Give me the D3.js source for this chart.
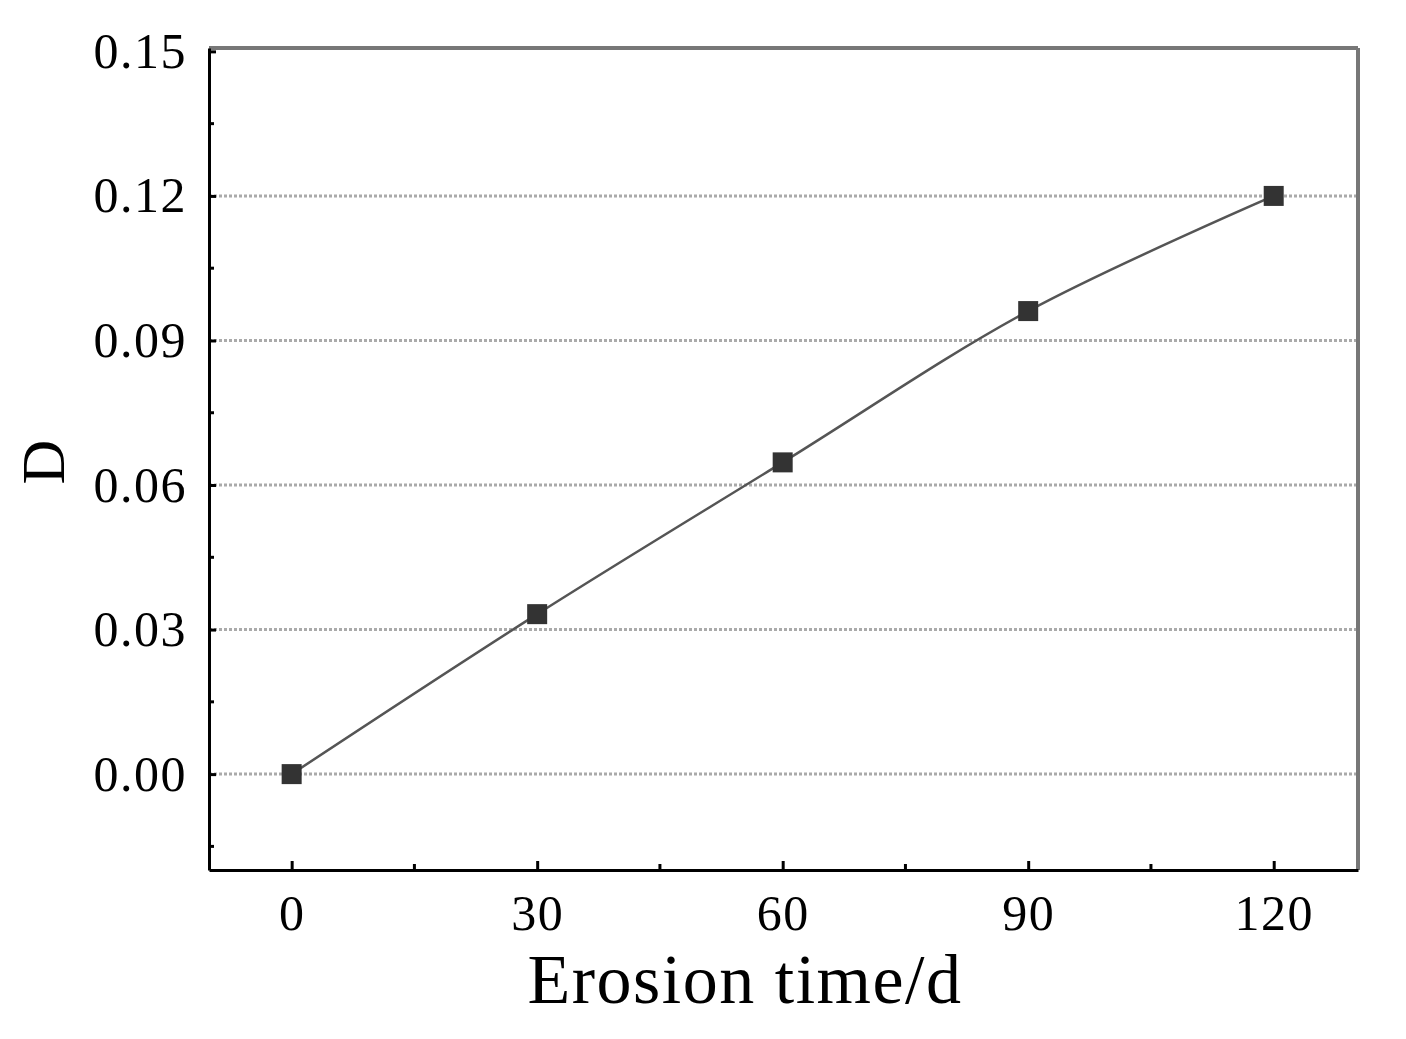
<!DOCTYPE html>
<html><head><meta charset="utf-8">
<script src="https://cdn.jsdelivr.net/npm/d3@7"></script>
<style>body{margin:0;background:#fff}</style></head>
<body><svg id="c" width="1406" height="1039"></svg>
<script>
const times=[0,30,60,90,120];
const dValues=[0,0.0332,0.0647,0.0961,0.12];
const yTicks=[0,0.03,0.06,0.09,0.12,0.15];
const xTicks=[0,30,60,90,120];
const gridTicks=[0,0.03,0.06,0.09,0.12];

const svg=d3.select("#c");
const L=209,R=1358,T=48,B=870;
const x=d3.scaleLinear().domain([-10.1,130.3]).range([L,R]);
const y=d3.scaleLinear().domain([-0.0199,0.1507]).range([B,T]);
const font="Liberation Serif, DejaVu Serif, serif";

svg.append("g").selectAll("line").data(gridTicks).join("line")
 .attr("x1",L).attr("x2",R).attr("y1",d=>y(d)).attr("y2",d=>y(d))
 .attr("stroke","#aaa").attr("stroke-width",3).attr("stroke-dasharray","3,2");

svg.append("line").attr("x1",L).attr("x2",R).attr("y1",T).attr("y2",T).attr("stroke","#777").attr("stroke-width",4);
svg.append("line").attr("x1",R).attr("x2",R).attr("y1",T).attr("y2",B).attr("stroke","#777").attr("stroke-width",4);

const ya=d3.axisLeft(y).tickValues(yTicks).tickFormat(d3.format(".2f")).tickSizeInner(-7).tickSizeOuter(0).tickPadding(22);
const gy=svg.append("g").attr("transform",`translate(${L},0)`).call(ya);
const yMinor=[-0.015,0.015,0.045,0.075,0.105,0.135];
gy.selectAll(".mn").data(yMinor).join("line").attr("x1",0).attr("x2",5).attr("y1",d=>y(d)).attr("y2",d=>y(d)).attr("stroke","#000").attr("stroke-width",3);
const xa=d3.axisBottom(x).tickValues(xTicks).tickSizeInner(-9).tickSizeOuter(0).tickPadding(24);
const gx=svg.append("g").attr("transform",`translate(0,${B})`).call(xa);
const xMinor=[15,45,75,105];
gx.selectAll(".mn").data(xMinor).join("line").attr("y1",0).attr("y2",-6).attr("x1",d=>x(d)).attr("x2",d=>x(d)).attr("stroke","#000").attr("stroke-width",3);
[gx,gy].forEach(g=>{g.select(".domain").attr("stroke","#000").attr("stroke-width",3);
 g.selectAll(".tick line").attr("stroke","#000").attr("stroke-width",3);
 g.selectAll("text").attr("font-family",font).attr("font-size",50).attr("letter-spacing",1.5).attr("fill","#000");});

svg.append("path").datum(times.map((t,i)=>[t,dValues[i]]))
 .attr("d",d3.line().x(d=>x(d[0])).y(d=>y(d[1])).curve(d3.curveCatmullRom))
 .attr("fill","none").attr("stroke","#555").attr("stroke-width",2.5);
svg.append("g").selectAll("rect").data(times).join("rect")
 .attr("x",(d)=>x(d)-10).attr("y",(d,i)=>y(dValues[i])-10).attr("width",20).attr("height",20).attr("fill","#333");

svg.append("text").attr("x",745).attr("y",1003).attr("text-anchor","middle").attr("font-family",font).attr("font-size",70).attr("letter-spacing",1.5).text("Erosion time/d");
svg.append("text").attr("transform","translate(64,462) rotate(-90)").attr("text-anchor","middle").attr("font-family",font).attr("font-size",62).text("D");
</script></body></html>
